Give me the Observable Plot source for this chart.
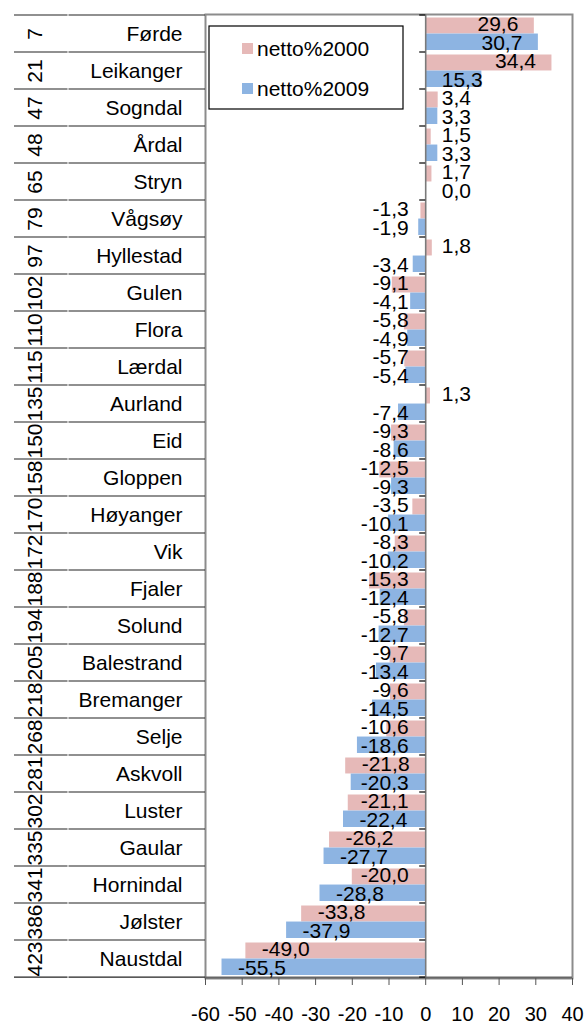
<!DOCTYPE html>
<html>
<head>
<meta charset="utf-8">
<script src="https://cdn.jsdelivr.net/npm/d3@7"></script>
<script src="https://cdn.jsdelivr.net/npm/@observablehq/plot@0.6"></script>
<style>
  html, body { margin: 0; padding: 0; background: #fff; }
  body { width: 587px; height: 1025px; overflow: hidden; }
</style>
</head>
<body>
<div id="chart"></div>
<script>
const ranks = [7, 21, 47, 48, 65, 79, 97, 102, 110, 115, 135, 150, 158, 170, 172, 188, 194, 205, 218, 268, 281, 302, 335, 341, 386, 423];
const names = ["Førde", "Leikanger", "Sogndal", "Årdal", "Stryn", "Vågsøy", "Hyllestad", "Gulen", "Flora", "Lærdal", "Aurland", "Eid", "Gloppen", "Høyanger", "Vik", "Fjaler", "Solund", "Balestrand", "Bremanger", "Selje", "Askvoll", "Luster", "Gaular", "Hornindal", "Jølster", "Naustdal"];
const netto2000 = [29.6, 34.4, 3.4, 1.5, 1.7, -1.3, 1.8, -9.1, -5.8, -5.7, 1.3, -9.3, -12.5, -3.5, -8.3, -15.3, -5.8, -9.7, -9.6, -10.6, -21.8, -21.1, -26.2, -20.0, -33.8, -49.0];
const netto2009 = [30.7, 15.3, 3.3, 3.3, 0.0, -1.9, -3.4, -4.1, -4.9, -5.4, -7.4, -8.6, -9.3, -10.1, -10.2, -12.4, -12.7, -13.4, -14.5, -18.6, -20.3, -22.4, -27.7, -28.8, -37.9, -55.5];
const seriesNames = ["netto%2000", "netto%2009"];
const xTicks = [-60, -50, -40, -30, -20, -10, 0, 10, 20, 30, 40];

const data = names.map((n, i) => ({name: n, rank: ranks[i], v2000: netto2000[i], v2009: netto2009[i]}));

const W = 587, H = 1025;
const mT = 14, mB = 47, mL = 205, mR = 15;
const xDomain = [-60, 40];
const k = (W - mL - mR) / (xDomain[1] - xDomain[0]);
const bw = (H - mT - mB) / names.length;
const PINK = "#E6B9B8", BLUE = "#8DB4E2";
const FONT = "Liberation Sans, Arial, sans-serif";
const FS = 21;

const fmt = v => v.toFixed(1).replace(".", ",");
const ctx = document.createElement("canvas").getContext("2d");
ctx.font = `${FS}px "Liberation Sans"`;

function labelMarks(key, dy) {
  const pad = 16;
  const fits = d => Math.abs(d[key]) * k >= ctx.measureText(fmt(d[key])).width + 2 * pad;
  const txt = d => fmt(d[key]);
  const common = {y: "name", text: txt, dy, fontSize: FS, fontFamily: FONT, fill: "#000"};
  return [
    Plot.text(data.filter(d => d[key] >= 0 && fits(d)), {...common, x: key, textAnchor: "end", dx: -pad}),
    Plot.text(data.filter(d => d[key] >= 0 && !fits(d)), {...common, x: () => 0, textAnchor: "start", dx: pad}),
    Plot.text(data.filter(d => d[key] < 0 && fits(d)), {...common, x: key, textAnchor: "start", dx: pad}),
    Plot.text(data.filter(d => d[key] < 0 && !fits(d)), {...common, x: () => 0, textAnchor: "end", dx: -pad - 1})
  ];
}

function decor(index, scales, values, dims) {
  const {x, y} = scales;
  const g = d3.create("svg:g");
  const top = dims.marginTop, left = dims.marginLeft;
  const boundaries = d3.range(names.length + 1).map(i => i < names.length ? y(names[i]) : y(names[names.length - 1]) + bw);
  // table lines on the left
  for (const yy of boundaries) {
    g.append("line").attr("x1", 14).attr("x2", 67.5).attr("y1", yy).attr("y2", yy)
      .attr("stroke", "#222").attr("stroke-width", 1.2);
    g.append("line").attr("x1", 68.5).attr("x2", left).attr("y1", yy).attr("y2", yy)
      .attr("stroke", "#222").attr("stroke-width", 1.2);
  }
  // y-axis tick marks at band boundaries
  const x0 = x(0);
  for (const yy of boundaries) {
    g.append("line").attr("x1", x0 - 6).attr("x2", x0).attr("y1", yy).attr("y2", yy)
      .attr("stroke", "#000").attr("stroke-width", 1.2);
  }
  // legend
  const lx = left + 4, ly = top + 12;
  g.append("rect").attr("x", lx).attr("y", ly).attr("width", 194).attr("height", 83)
    .attr("fill", "#fff").attr("stroke", "#000").attr("stroke-width", 1.2);
  [[PINK, seriesNames[0], 23], [BLUE, seriesNames[1], 63]].forEach(([c, t, oy]) => {
    g.append("rect").attr("x", lx + 33).attr("y", ly + oy - 6).attr("width", 11).attr("height", 11).attr("fill", c);
    g.append("text").attr("x", lx + 48).attr("y", ly + oy).attr("dy", "0.35em")
      .attr("text-anchor", "start")
      .attr("font-family", FONT).attr("font-size", FS).attr("fill", "#000").text(t);
  });
  return g.node();
}

const plot = Plot.plot({
  width: W,
  height: H,
  marginTop: mT,
  marginBottom: mB,
  marginLeft: mL,
  marginRight: mR,
  style: {fontFamily: FONT, background: "#fff"},
  x: {domain: xDomain, ticks: xTicks, tickFormat: d => String(d)},
  y: {domain: names, padding: 0, axis: null},
  marks: [
    Plot.frame({stroke: "#8c8c8c", strokeWidth: 2}),
    Plot.barX(data, {y: "name", x: "v2000", fill: PINK, insetTop: 2.5, insetBottom: bw / 2}),
    Plot.barX(data, {y: "name", x: "v2009", fill: BLUE, insetTop: bw / 2, insetBottom: 2}),
    Plot.ruleX([0], {stroke: "#7a7a7a", strokeWidth: 1.6}),
    Plot.ruleY([names[names.length - 1]], {y: d => d, dy: bw / 2, stroke: "#666", strokeWidth: 2}),
    Plot.axisX({ticks: xTicks, tickFormat: d => String(d), tickSize: 7, tickPadding: 21, fontSize: 20, fontFamily: FONT, stroke: "#555", color: "#000"}),
    ...labelMarks("v2000", -bw / 4),
    ...labelMarks("v2009", bw / 4),
    Plot.text(data, {y: "name", text: "name", frameAnchor: "left", textAnchor: "end", dx: -23, fontSize: FS, fontFamily: FONT, fill: "#000"}),
    Plot.text(data, {y: "name", text: d => String(d.rank), frameAnchor: "left", textAnchor: "middle", dx: -170, rotate: -90, fontSize: FS, fontFamily: FONT, fill: "#000"}),
    decor
  ]
});
document.getElementById("chart").appendChild(plot);
</script>
</body>
</html>
